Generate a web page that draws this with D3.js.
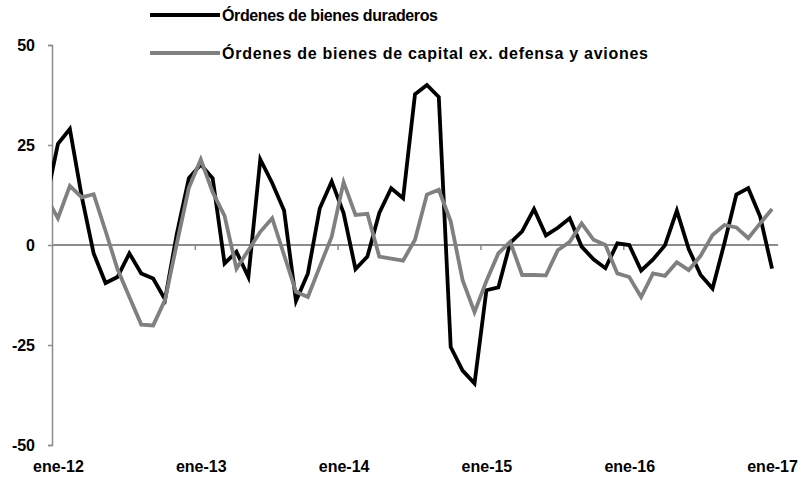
<!DOCTYPE html>
<html><head><meta charset="utf-8">
<script src="https://cdn.jsdelivr.net/npm/d3@7"></script>
<style>body{margin:0;background:#fff}svg{display:block;font-family:"Liberation Sans",Arial,sans-serif}</style>
</head><body><svg id="c" width="799" height="483"></svg>
<script>
const monthNames = ["ene","feb","mar","abr","may","jun","jul","ago","sep","oct","nov","dic"];
const years = [12,13,14,15,16];
const categories = ["dic-11"].concat(...years.map(yy => monthNames.map(m => m + "-" + yy)), ["ene-17"]);

const durables = [11, 25.3, 29, 12.1, -2.1, -9.5, -8.0, -2.1, -7.1, -8.4, -13.6, 3, 16.7,
  20.1, 16.7, -4.6, -1.7, -8.0, 21.4, 15.5, 8.6, -14.0, -7.1, 9.2, 15.9,
  8, -6.0, -2.9, 8.0, 14.2, 11.7, 37.7, 40.0, 37.0, -25.5, -31.4, -34.6,
  -11.3, -10.6, 0.5, 3.4, 9.0, 2.4, 4.3, 6.7, -0.4, -3.6, -5.8, 0.4,
  0, -6.4, -3.6, -0.1, 8.6, -1.0, -7.5, -10.9, 0.5, 12.6, 14.2, 7.1, -5.9];
const capitalGoods = [12, 6.7, 14.8, 11.9, 12.7, 3.5, -6, -13, -19.9, -20.1, -13.7, 0.5, 14.3,
  21.4, 13.2, 7.3, -5.9, -1.3, 3.3, 6.7, -2.5, -11.7, -13.0, -5.4, 2.1,
  15.7, 7.5, 7.8, -2.9, -3.4, -3.9, 1.3, 12.6, 13.8, 5.9, -8.8, -16.8,
  -9.0, -2.1, 0.8, -7.5, -7.5, -7.6, -1.3, 0.8, 5.4, 1.3, 0, -7.1,
  -8.0, -13.0, -7.1, -7.7, -4.3, -6.3, -2.7, 2.5, 5.0, 4.4, 1.7, 5.4, 9.0];

const seriesNames = ["Órdenes de bienes duraderos", "Órdenes de bienes de capital ex. defensa y aviones"];
const seriesColors = ["#000000", "#808080"];
const xTickLabels = ["ene-12","ene-13","ene-14","ene-15","ene-16","ene-17"];
const yTicks = [-50, -25, 0, 25, 50];

const svg = d3.select("#c");
const L = 52, R = 778, T = 45, B = 445;
const x = d3.scaleLinear().domain([0.5, categories.length - 0.5]).range([L, R]);
const y = d3.scaleLinear().domain([-50, 50]).range([B, T]);

svg.append("defs").append("clipPath").attr("id","plot")
  .append("rect").attr("x", L).attr("y", 0).attr("width", R - L).attr("height", 483);

const labelIdx = xTickLabels.map(l => categories.indexOf(l));
const boundaryIdx = labelIdx.slice(1).map(i => i - 0.5);
const gx = svg.append("g").attr("transform", `translate(0,${y(0)})`)
  .call(d3.axisBottom(x).tickValues(boundaryIdx).tickSize(5).tickFormat(""));
gx.select(".domain").attr("d", `M${L},0H${R}`).attr("stroke", "#8c8c8c").attr("stroke-width", 2);
gx.selectAll(".tick line").attr("stroke", "#8c8c8c").attr("stroke-width", 1.5);

const gl = svg.append("g").attr("transform", `translate(0,${B + 13})`)
  .call(d3.axisBottom(x).tickValues(labelIdx).tickSize(0).tickFormat((d, i) => xTickLabels[i]));
gl.select(".domain").remove();
gl.selectAll("text").attr("font-size", 16).attr("font-weight", "bold").attr("fill", "#000")
  .attr("font-family", "Liberation Sans, Arial, sans-serif");

const gy = svg.append("g").attr("transform", `translate(${L},0)`)
  .call(d3.axisLeft(y).tickValues(yTicks).tickSize(4).tickPadding(13).tickFormat(d => String(d)));
gy.select(".domain").attr("stroke", "#8c8c8c").attr("stroke-width", 1.5);
gy.selectAll(".tick line").attr("stroke", "#8c8c8c").attr("stroke-width", 1.5);
gy.selectAll("text").attr("font-size", 16).attr("font-weight", "bold").attr("fill", "#000")
  .attr("font-family", "Liberation Sans, Arial, sans-serif");

const line = d3.line().x((d, i) => x(i)).y(d => y(d));
[durables, capitalGoods].forEach((s, k) => {
  svg.append("path").datum(s).attr("clip-path", "url(#plot)")
    .attr("fill", "none").attr("stroke", seriesColors[k]).attr("stroke-width", 3.8)
    .attr("stroke-linejoin", "miter").attr("d", line);
});

const legY = [15, 53];
const legW = [216, 426];
seriesNames.forEach((n, k) => {
  svg.append("line").attr("x1", 150).attr("x2", 220).attr("y1", legY[k]).attr("y2", legY[k])
    .attr("stroke", seriesColors[k]).attr("stroke-width", 3.8);
  svg.append("text").attr("x", 222).attr("y", legY[k]).attr("dy", "0.35em")
    .attr("font-size", 16).attr("font-weight", "bold")
    .attr("textLength", legW[k]).attr("lengthAdjust", "spacing").text(n);
});
</script></body></html>
